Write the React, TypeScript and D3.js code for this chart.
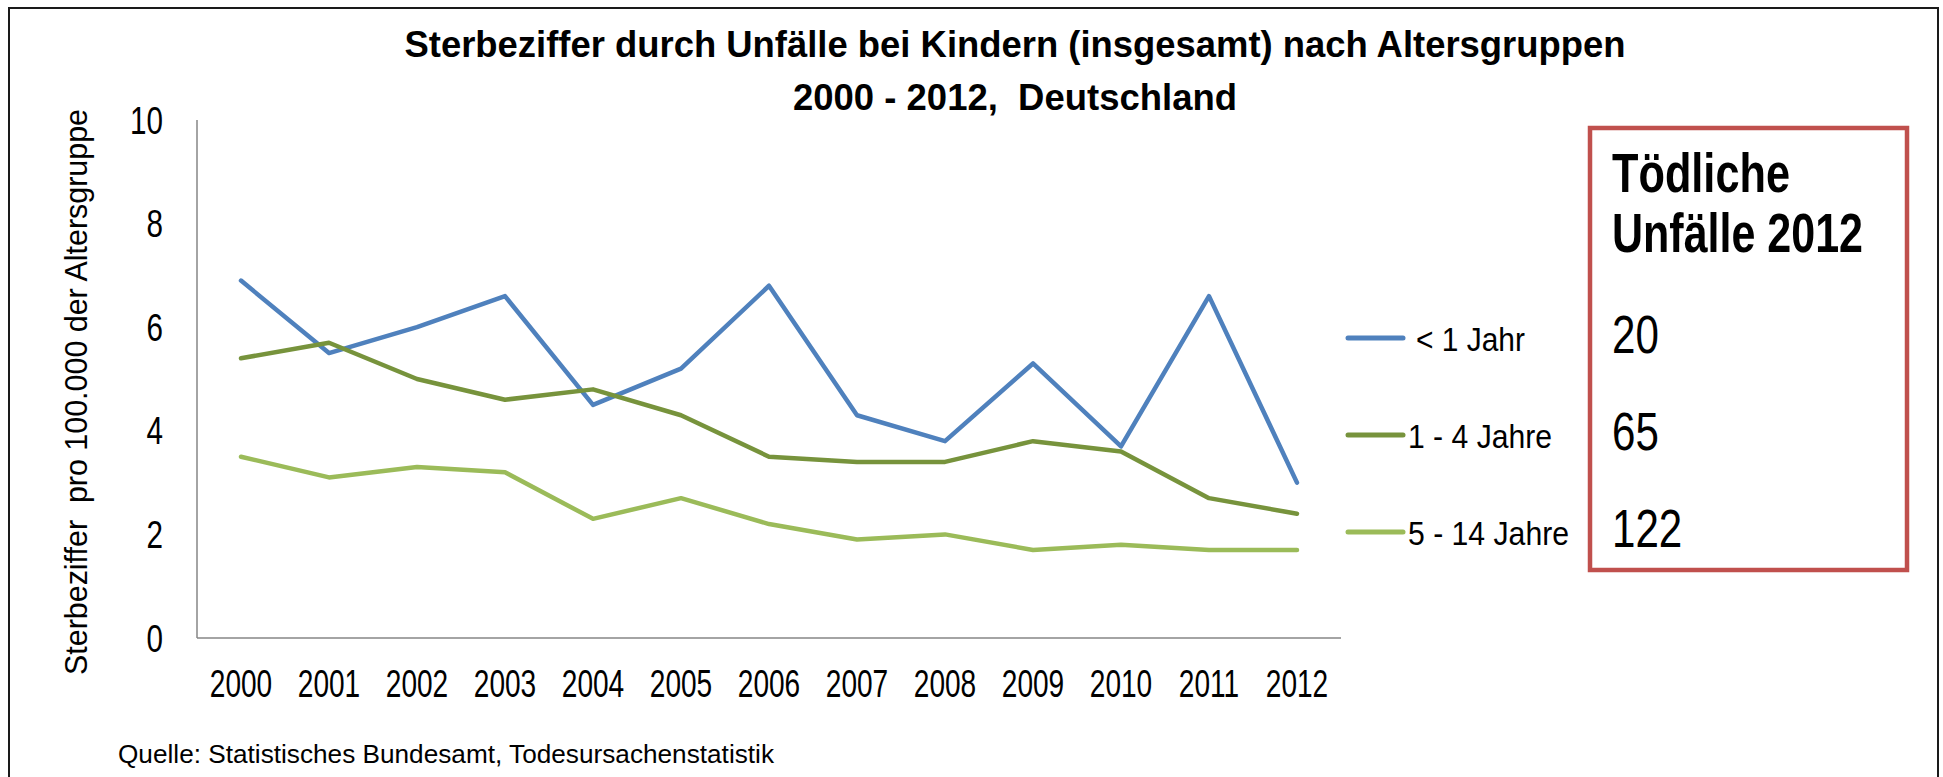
import React from 'react';
import * as d3 from 'd3';

const years = ['2000','2001','2002','2003','2004','2005','2006','2007','2008','2009','2010','2011','2012'];
const under1 = [6.9, 5.5, 6.0, 6.6, 4.5, 5.2, 6.8, 4.3, 3.8, 5.3, 3.7, 6.6, 3.0];
const age1to4 = [5.4, 5.7, 5.0, 4.6, 4.8, 4.3, 3.5, 3.4, 3.4, 3.8, 3.6, 2.7, 2.4];
const age5to14 = [3.5, 3.1, 3.3, 3.2, 2.3, 2.7, 2.2, 1.9, 2.0, 1.7, 1.8, 1.7, 1.7];
const seriesNames = ['< 1 Jahr', '1 - 4 Jahre', '5 - 14 Jahre'];
const seriesColors = ['#4F81BD', '#77933C', '#9BBB59'];
const deaths2012 = ['20', '65', '122'];
const yTicks = [0, 2, 4, 6, 8, 10];

const titleLine1 = 'Sterbeziffer durch Unfälle bei Kindern (insgesamt) nach Altersgruppen';
const titleLine2 = '2000 - 2012,  Deutschland';
const yAxisTitle = 'Sterbeziffer  pro 100.000 der Altersgruppe';
const sourceText = 'Quelle: Statistisches Bundesamt, Todesursachenstatistik';
const boxTitle = ['Tödliche', 'Unfälle 2012'];

const FONT = '"Liberation Sans", Arial, sans-serif';
const PRE = { whiteSpace: 'pre' as const };

export default function App() {
  const W = 1943, H = 777;
  const plotLeft = 197, plotRight = 1341, plotTop = 120, plotBottom = 638;
  const x = d3.scaleBand<string>().domain(years).range([plotLeft, plotRight]);
  const y = d3.scaleLinear().domain([0, 10]).range([plotBottom, plotTop]);
  const cx = (yr: string) => (x(yr) as number) + x.bandwidth() / 2;
  const line = d3.line<number>().x((_, i) => cx(years[i])).y(d => y(d));
  const series = [under1, age1to4, age5to14];

  const legendY = [351, 448, 545];
  const legendTextX = [1416, 1408, 1408];
  const legendLen = [109, 144, 161];

  return (
    <svg width={W} height={H} style={{ position: 'absolute', left: 0, top: 0, background: '#fff' }} fontFamily={FONT}>
      <rect x={0} y={0} width={W} height={H} fill="#fff" />
      <rect x={9} y={8} width={1929} height={820} fill="none" stroke="#1a1a1a" strokeWidth={2} />

      {/* title */}
      <text x={1015} y={57} textAnchor="middle" fontSize={37} fontWeight="bold" textLength={1221} lengthAdjust="spacingAndGlyphs">{titleLine1}</text>
      <text x={1015} y={110} textAnchor="middle" fontSize={37} fontWeight="bold" textLength={444} lengthAdjust="spacingAndGlyphs" style={PRE}>{titleLine2}</text>

      {/* axes */}
      <line x1={plotLeft} x2={plotLeft} y1={plotTop} y2={plotBottom} stroke="#868686" strokeWidth={1.5} />
      <line x1={plotLeft} x2={plotRight} y1={plotBottom} y2={plotBottom} stroke="#868686" strokeWidth={1.5} />

      {yTicks.map(t => (
        <text key={t} transform={`translate(163,${y(t)}) scale(0.78,1)`} textAnchor="end" dy="0.36em" fontSize={38}>{t}</text>
      ))}
      {years.map(yr => (
        <text key={yr} transform={`translate(${cx(yr)},697) scale(0.72,1)`} textAnchor="middle" fontSize={39}>{yr}</text>
      ))}

      <text transform="translate(87,392) rotate(-90)" textAnchor="middle" fontSize={32} textLength={566} lengthAdjust="spacingAndGlyphs" style={PRE}>{yAxisTitle}</text>

      {/* lines */}
      {series.map((s, i) => (
        <path key={i} d={line(s) as string} fill="none" stroke={seriesColors[i]} strokeWidth={4.5} strokeLinejoin="round" strokeLinecap="round" />
      ))}

      {/* legend */}
      {seriesNames.map((n, i) => (
        <g key={n}>
          <line x1={1348} x2={1403} y1={legendY[i] - 13} y2={legendY[i] - 13} stroke={seriesColors[i]} strokeWidth={5} strokeLinecap="round" />
          <text x={legendTextX[i]} y={legendY[i]} fontSize={34} textLength={legendLen[i]} lengthAdjust="spacingAndGlyphs">{n}</text>
        </g>
      ))}

      {/* red box */}
      <rect x={1590} y={128} width={317} height={442} fill="none" stroke="#C0504D" strokeWidth={4.5} />
      <text x={1612} y={192} fontSize={55} fontWeight="bold" textLength={178} lengthAdjust="spacingAndGlyphs">{boxTitle[0]}</text>
      <text x={1612} y={252} fontSize={55} fontWeight="bold" textLength={251} lengthAdjust="spacingAndGlyphs">{boxTitle[1]}</text>
      {deaths2012.map((d, i) => (
        <text key={d} transform={`translate(1612,${legendY[i] + 2}) scale(0.78,1)`} fontSize={54}>{d}</text>
      ))}

      <text x={118} y={763} fontSize={26} textLength={656} lengthAdjust="spacingAndGlyphs">{sourceText}</text>
    </svg>
  );
}
